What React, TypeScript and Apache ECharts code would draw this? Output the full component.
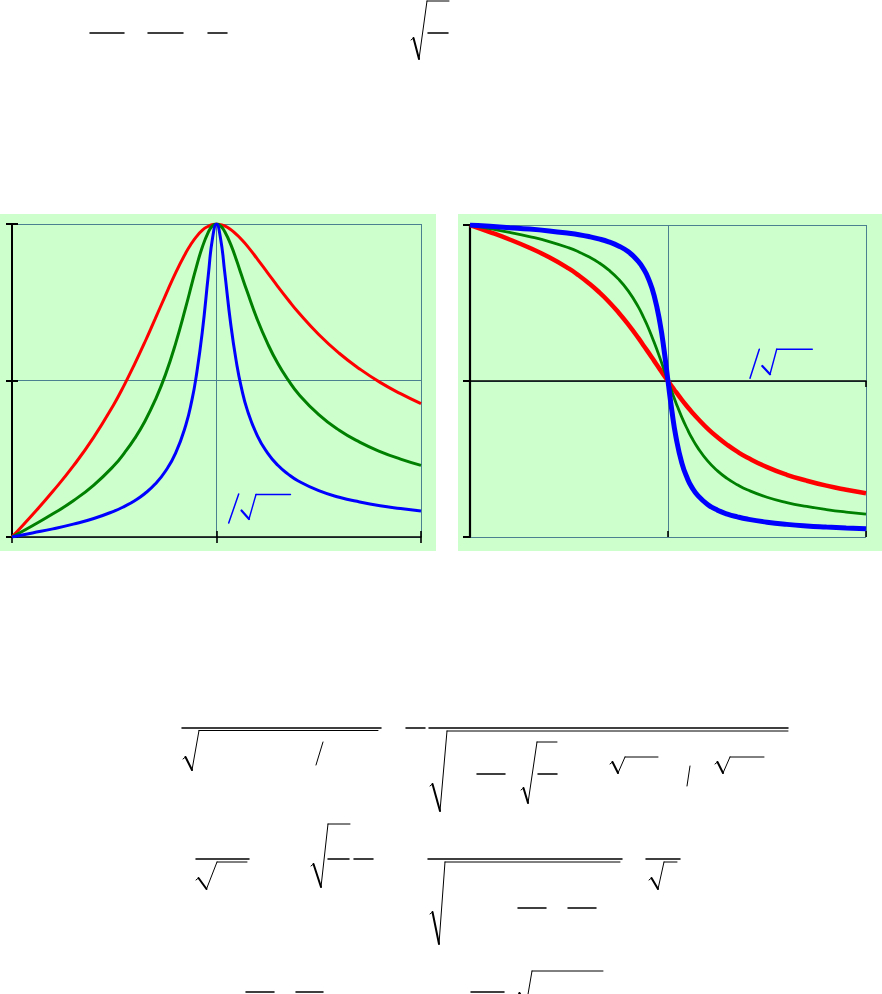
import React, { useEffect, useRef } from "react";
import * as echarts from "echarts";

// Normalised frequency (ω/ω0) sample positions
const FREQ = [0, 0.1, 0.2, 0.3, 0.4, 0.5, 0.55, 0.6, 0.65, 0.7, 0.75, 0.8, 0.85, 0.88, 0.9, 0.93, 0.96, 0.98, 1.0, 1.02, 1.04, 1.07, 1.1, 1.12, 1.15, 1.2, 1.25, 1.3, 1.35, 1.4, 1.5, 1.6, 1.7, 1.8, 1.9, 2.0];

// Left chart: amplitude response (0 … 1)
const AMP_RED = [0, 0.071, 0.146, 0.227, 0.319, 0.426, 0.487, 0.553, 0.623, 0.697, 0.771, 0.844, 0.908, 0.94, 0.958, 0.98, 0.993, 0.998, 1, 0.998, 0.994, 0.982, 0.965, 0.952, 0.93, 0.888, 0.844, 0.8, 0.758, 0.718, 0.647, 0.587, 0.537, 0.494, 0.458, 0.426];
const AMP_GREEN = [0, 0.036, 0.074, 0.116, 0.166, 0.229, 0.269, 0.315, 0.37, 0.437, 0.518, 0.618, 0.735, 0.81, 0.859, 0.925, 0.974, 0.994, 1, 0.994, 0.976, 0.934, 0.88, 0.841, 0.784, 0.694, 0.618, 0.554, 0.502, 0.458, 0.391, 0.341, 0.303, 0.273, 0.249, 0.229];
const AMP_BLUE = [0, 0.013, 0.026, 0.041, 0.059, 0.083, 0.098, 0.116, 0.139, 0.169, 0.21, 0.268, 0.358, 0.438, 0.51, 0.652, 0.837, 0.952, 1, 0.953, 0.847, 0.678, 0.548, 0.482, 0.407, 0.323, 0.268, 0.229, 0.201, 0.179, 0.148, 0.127, 0.112, 0.1, 0.091, 0.083];

// Right chart: phase response (+1 … -1)
const PHASE_RED = [1, 0.955, 0.907, 0.854, 0.793, 0.72, 0.676, 0.627, 0.572, 0.51, 0.439, 0.361, 0.276, 0.221, 0.185, 0.129, 0.073, 0.036, 0, -0.036, -0.07, -0.121, -0.168, -0.198, -0.24, -0.305, -0.361, -0.41, -0.453, -0.49, -0.552, -0.601, -0.639, -0.671, -0.697, -0.72];
const PHASE_GREEN = [1, 0.977, 0.953, 0.926, 0.894, 0.853, 0.827, 0.796, 0.759, 0.712, 0.653, 0.576, 0.475, 0.399, 0.343, 0.248, 0.145, 0.072, 0, -0.071, -0.139, -0.233, -0.315, -0.364, -0.427, -0.512, -0.576, -0.626, -0.665, -0.697, -0.745, -0.779, -0.804, -0.824, -0.84, -0.853];
const PHASE_BLUE = [1, 0.992, 0.983, 0.974, 0.962, 0.947, 0.938, 0.926, 0.911, 0.892, 0.866, 0.828, 0.767, 0.711, 0.66, 0.548, 0.368, 0.199, 0, -0.195, -0.357, -0.526, -0.631, -0.68, -0.733, -0.791, -0.828, -0.853, -0.871, -0.885, -0.905, -0.919, -0.929, -0.936, -0.942, -0.947];

// Axis ticks
const X_TICK_STEP = 1;
const AMP_TICK_STEP = 0.5;
const PHASE_TICK_STEP = 1;

const GRID_COLOR = "#4a8090";
const BG_GREEN = "#ccffcc";

// Decorative formula fragments (the only visible parts of the typeset formulas)
const BARS: number[][] = [
  [90, 124, 33], [148, 183, 33], [208, 227, 33], [428, 448, 33],
  [182, 381, 728], [406, 425, 728], [429, 788, 728], [477, 505, 774], [538, 557, 774],
  [196, 249, 859], [328, 349, 859], [354, 373, 859], [428, 622, 859], [518, 546, 908], [568, 596, 908], [646, 680, 859],
  [246, 274, 992], [296, 323, 992], [471, 504, 992],
];
// radical: [hookX, hookY, bottomX, bottomY, topX, topY, endX]
const RADICALS: number[][] = [
  [411, 39, 419, 59, 427, 1, 449],
  [183, 758, 192, 770, 199, 730.5, 378],
  [430, 785, 440, 811, 447, 731, 788],
  [521, 789, 528, 803, 537, 742, 557],
  [610, 763, 618, 773, 625, 757, 658],
  [715, 763, 723, 773, 730, 757, 764],
  [196, 879, 206.5, 889, 217, 862, 247],
  [311, 865, 321, 887, 328, 824, 350],
  [430, 913, 439, 944, 445, 862, 620],
  [649, 879, 658, 889, 664, 862, 677],
  [517, 994, 526, 1006, 532, 971, 603],
];
const SLASHES: number[][] = [
  [323, 742, 316, 765],
  [690, 766, 687, 786],
];
const BLUE_SLASHES: number[][] = [
  [238.7, 494, 228.7, 523],
  [759.3, 349.3, 750, 378.3],
];
const BLUE_RADICALS: number[][] = [
  [241.5, 510.5, 249, 519, 256, 494.5, 290.5],
  [762.3, 366, 770, 374.3, 776.7, 349.3, 812.3],
];

function line(x1: number, y1: number, x2: number, y2: number, color: string, w: number) {
  return {
    type: "line",
    silent: true,
    z: 100,
    shape: { x1, y1, x2, y2 },
    style: { stroke: color, lineWidth: w, lineCap: "round" },
  };
}

function radical(r: number[], color: string, thin: number, thick: number) {
  const [hx, hy, bx, by, tx, ty, ex] = r;
  return [
    line(hx, hy + 1, hx + 2.5, hy - 1, color, thin),
    line(hx + 2.5, hy - 1, bx, by, color, thick),
    line(bx, by, tx, ty, color, thin),
    line(tx, ty, ex, ty, color, thin),
  ];
}

function blueRadical(r: number[]) {
  const [sx, sy, bx, by, tx, ty, ex] = r;
  return [
    line(sx, sy, bx, by, "#0000ff", 2.2),
    line(bx, by, tx, ty, "#0000ff", 1.4),
    line(tx, ty, ex, ty, "#0000ff", 1.4),
  ];
}

function pairs(ys: number[]) {
  return FREQ.map((x, i) => [x, ys[i]]);
}

function xAxes(gridIndex: number) {
  const common = {
    gridIndex,
    type: "value" as const,
    position: "bottom" as const,
    min: 0,
    max: 2,
    interval: X_TICK_STEP,
    axisLabel: { show: false },
  };
  return [
    {
      ...common,
      axisLine: { show: true, onZero: true, lineStyle: { color: "#000", width: 1.5 } },
      axisTick: { show: true, inside: false, length: 6, lineStyle: { color: "#000", width: 1.6 } },
      splitLine: { show: true, lineStyle: { color: GRID_COLOR, width: 1 } },
    },
    {
      ...common,
      axisLine: { show: false, onZero: true },
      axisTick: { show: true, inside: true, length: 6, lineStyle: { color: "#000", width: 1.6 } },
      splitLine: { show: false },
    },
  ];
}

function curve(xi: number, yi: number, ys: number[], color: string, width: number) {
  return {
    type: "line",
    xAxisIndex: xi,
    yAxisIndex: yi,
    data: pairs(ys),
    smooth: true,
    showSymbol: false,
    symbol: "none",
    lineStyle: { color, width },
  };
}

export default function App() {
  const ref = useRef<HTMLDivElement>(null);

  useEffect(() => {
    if (!ref.current) return;
    const chart = echarts.init(ref.current, null, { renderer: "svg" });

    const graphics: any[] = [
      { type: "rect", silent: true, z: -10, shape: { x: 0, y: 214, width: 436, height: 337 }, style: { fill: BG_GREEN } },
      { type: "rect", silent: true, z: -10, shape: { x: 458, y: 214, width: 424, height: 337 }, style: { fill: BG_GREEN } },
    ];
    BARS.forEach(([a, b, y]) => graphics.push(line(a, y, b, y, "#000", 1.5)));
    SLASHES.forEach(([a, b, c, d]) => graphics.push(line(a, b, c, d, "#000", 1)));
    RADICALS.forEach((r) => graphics.push(...radical(r, "#000", 1, 2)));
    BLUE_SLASHES.forEach(([a, b, c, d]) => graphics.push(line(a, b, c, d, "#0000ff", 1.5)));
    BLUE_RADICALS.forEach((r) => graphics.push(...blueRadical(r)));

    const option: any = {
      animation: false,
      backgroundColor: "#ffffff",
      grid: [
        { left: 12, top: 224, width: 409, height: 313, containLabel: false },
        { left: 470, top: 225, width: 396, height: 312, containLabel: false },
      ],
      xAxis: [...xAxes(0), ...xAxes(1)],
      yAxis: [
        {
          gridIndex: 0,
          type: "value",
          position: "left",
          min: 0,
          max: 1,
          interval: AMP_TICK_STEP,
          axisLabel: { show: false },
          axisLine: { show: true, onZero: false, lineStyle: { color: "#000", width: 2 } },
          axisTick: { show: true, inside: false, length: 6, lineStyle: { color: "#000", width: 2 } },
          splitLine: { show: true, lineStyle: { color: GRID_COLOR, width: 1 } },
        },
        {
          gridIndex: 0,
          type: "value",
          position: "left",
          min: 0,
          max: 1,
          interval: AMP_TICK_STEP,
          axisLabel: { show: false },
          axisLine: { show: false, onZero: false },
          axisTick: { show: true, inside: true, length: 6, lineStyle: { color: "#000", width: 2 } },
          splitLine: { show: false },
        },
        {
          gridIndex: 1,
          type: "value",
          position: "left",
          min: -1,
          max: 1,
          interval: PHASE_TICK_STEP,
          axisLabel: { show: false },
          axisLine: { show: true, onZero: false, lineStyle: { color: "#000", width: 2.2 } },
          axisTick: { show: true, inside: false, length: 7, lineStyle: { color: "#000", width: 2 } },
          splitLine: { show: true, lineStyle: { color: GRID_COLOR, width: 1 } },
        },
      ],
      series: [
        curve(0, 0, AMP_RED, "#ff0000", 3),
        curve(0, 0, AMP_GREEN, "#008000", 3),
        curve(0, 0, AMP_BLUE, "#0000ff", 3),
        curve(2, 2, PHASE_RED, "#ff0000", 4.5),
        curve(2, 2, PHASE_GREEN, "#008000", 2.8),
        curve(2, 2, PHASE_BLUE, "#0000ff", 5),
      ],
      graphic: graphics,
    };

    chart.setOption(option);
    return () => chart.dispose();
  }, []);

  return (
    <div
      ref={ref}
      style={{ position: "absolute", left: 0, top: 0, width: 882, height: 994, background: "#ffffff" }}
    />
  );
}
